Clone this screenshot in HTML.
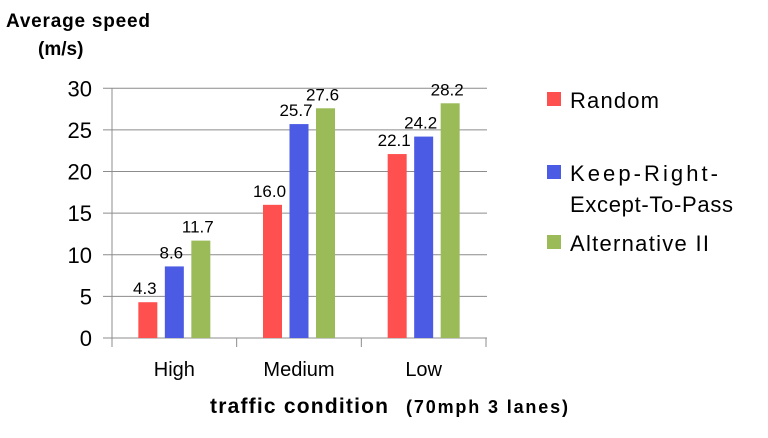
<!DOCTYPE html>
<html><head><meta charset="utf-8"><style>
body{margin:0;background:#fff;}
svg text{font-family:"Liberation Sans",Arial,sans-serif;}
</style></head><body>
<svg id="chart" width="768" height="433" xmlns="http://www.w3.org/2000/svg">
<text x="6" y="27" font-size="19" font-weight="bold" fill="#000" textLength="144">Average speed</text>
<text x="38" y="55" font-size="19" font-weight="bold" fill="#000">(m/s)</text>
<g id="grid"></g><g id="bars"></g>
<text x="210" y="413" font-size="21" font-weight="bold" fill="#000" textLength="178">traffic condition</text>
<text x="406" y="413" font-size="18" font-weight="bold" fill="#000" textLength="162">(70mph 3 lanes)</text>
<g>
<rect x="547" y="92" width="14" height="14" fill="#ff5050"/>
<text x="570" y="108" font-size="22" fill="#000" textLength="89">Random</text>
<rect x="547" y="165" width="14" height="14" fill="#4b5be3"/>
<text x="570" y="181" font-size="22" fill="#000" textLength="148">Keep-Right-</text>
<text x="570" y="212" font-size="22" fill="#000" textLength="163">Except-To-Pass</text>
<rect x="547" y="235" width="14" height="14" fill="#9bbb59"/>
<text x="570" y="251" font-size="22" fill="#000" textLength="139">Alternative II</text>
</g>
</svg>
<script>
const categories=["High","Medium","Low"];
const randomVals=[4.3,16.0,22.1];
const keepRightVals=[8.6,25.7,24.2];
const altVals=[11.7,27.6,28.2];
const yTicks=[0,5,10,15,20,25,30];
const NS="http://www.w3.org/2000/svg";
const x0=112,x1=486,y0=338,y30=88.3;
const yS=v=>y0-(v/30)*(y0-y30);
const cw=(x1-x0)/categories.length;
const grid=document.getElementById('grid'),bars=document.getElementById('bars');
function mk(tag,attrs,parent){const e=document.createElementNS(NS,tag);for(const k in attrs)e.setAttribute(k,attrs[k]);parent.appendChild(e);return e;}
yTicks.forEach(t=>{
  const l=mk('line',{x1:103,x2:487,y1:yS(t),y2:yS(t),stroke:'#8c8c8c','stroke-width':1},grid);
  
  
  const tx=mk('text',{x:92,y:yS(t)+8,'font-size':22,'text-anchor':'end',fill:'#000'},grid);
  tx.textContent=t;
  
  
});
const ax=mk('line',{x1:x0,x2:x0,y1:88,y2:347,stroke:'#8c8c8c','stroke-width':1},grid);


for(let i=1;i<=categories.length;i++){
  const tk=mk('line',{x1:x0+i*cw,x2:x0+i*cw,y1:y0,y2:347,stroke:'#8c8c8c','stroke-width':1},grid);
  
  
}
const series=[[randomVals,'#ff5050','random'],[keepRightVals,'#4b5be3','keep-right'],[altVals,'#9bbb59','alternative']];
const bw=19,step=26.5;
categories.forEach((c,i)=>{
  const cx=x0+cw*(i+0.5);
  const lab=mk('text',{x:cx,y:376,'font-size':20,'text-anchor':'middle',fill:'#000'},grid);
  lab.textContent=c;
  
  
  series.forEach((s,j)=>{
    const v=s[0][i];
    const bx=cx+(j-1)*step-bw/2;
    const r=mk('rect',{x:bx,y:yS(v),width:bw,height:y0-yS(v),fill:s[1]},bars);
    
    
    const t=mk('text',{x:bx+bw/2-3,y:yS(v)-8,'font-size':17,'text-anchor':'middle',fill:'#000'},bars);
    t.textContent=v.toFixed(1);
    
    
  });
});
</script>
</body></html>
